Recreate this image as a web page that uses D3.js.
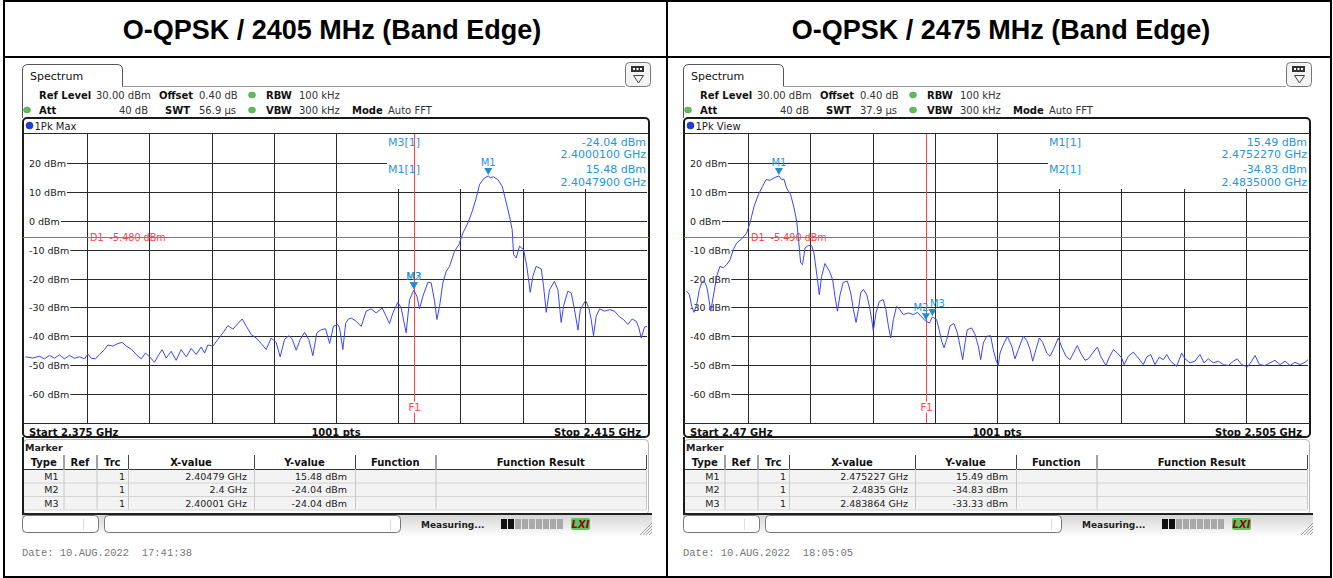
<!DOCTYPE html>
<html>
<head>
<meta charset="utf-8">
<script src="https://cdn.jsdelivr.net/npm/d3@7"></script>
<style>
  body { margin: 0; background: #fff; }
  svg text { white-space: pre; }
</style>
</head>
<body>
<svg id="chart" width="1333" height="578" font-family="DejaVu Sans, sans-serif"></svg>
<script>
// values

const titles = ['O-QPSK / 2405 MHz (Band Edge)', 'O-QPSK / 2475 MHz (Band Edge)'];
const yTicks = [20, 10, 0, -10, -20, -30, -40, -50, -60];

const setupNames = ['Ref Level', 'Offset', 'RBW', 'Att', 'SWT', 'VBW', 'Mode'];
const setupLow = ['30.00 dBm', '0.40 dB', '100 kHz', '40 dB', '56.9 µs', '300 kHz', 'Auto FFT'];
const setupHigh = ['30.00 dBm', '0.40 dB', '100 kHz', '40 dB', '37.9 µs', '300 kHz', 'Auto FFT'];

// trace points [MHz, dBm]
const traceLow = [
  [2375.03,-47.1],[2375.50,-47.5],[2375.93,-46.9],[2376.25,-47.8],[2376.58,-46.6],[2376.90,-47.6],
  [2377.22,-46.4],[2377.54,-47.8],[2377.86,-46.6],[2378.18,-47.6],[2378.51,-47.1],[2378.83,-47.8],
  [2379.04,-46.1],[2379.26,-47.6],[2379.53,-47.8],[2379.79,-46.3],[2380.11,-44.6],[2380.33,-43.0],
  [2380.65,-43.4],[2380.97,-42.5],[2381.25,-42.1],[2381.51,-43.4],[2381.83,-44.4],[2382.15,-46.3],
  [2382.47,-47.8],[2382.75,-45.8],[2383.01,-47.1],[2383.33,-49.0],[2383.61,-46.3],[2383.82,-44.6],
  [2384.08,-47.5],[2384.40,-45.2],[2384.72,-48.3],[2385.04,-44.6],[2385.37,-47.1],[2385.69,-44.2],
  [2386.01,-46.3],[2386.33,-43.7],[2386.55,-45.8],[2386.76,-43.0],[2387.08,-43.4],[2387.40,-41.1],
  [2387.73,-38.8],[2388.05,-36.3],[2388.37,-37.5],[2388.69,-35.6],[2388.97,-34.0],[2389.23,-36.5],
  [2389.55,-39.4],[2389.87,-40.6],[2390.19,-42.5],[2390.51,-44.6],[2390.83,-40.6],[2391.15,-42.1],
  [2391.41,-47.1],[2391.69,-41.1],[2391.97,-39.8],[2392.18,-40.9],[2392.44,-44.8],[2392.70,-41.1],
  [2392.98,-38.6],[2393.25,-41.1],[2393.51,-46.7],[2393.77,-38.8],[2394.05,-37.7],[2394.33,-37.4],
  [2394.59,-42.5],[2394.84,-36.5],[2395.12,-35.9],[2395.23,-37.1],[2395.44,-44.6],[2395.62,-35.5],
  [2395.80,-34.0],[2395.98,-33.7],[2396.30,-34.8],[2396.62,-36.6],[2396.94,-31.3],[2397.26,-30.5],
  [2397.58,-31.9],[2397.97,-30.2],[2398.23,-33.1],[2398.44,-35.6],[2398.66,-31.9],[2398.98,-28.2],
  [2399.19,-30.2],[2399.51,-38.8],[2399.73,-27.3],[2400.00,-24.04],[2400.20,-26.1],[2400.37,-30.5],
  [2400.59,-26.1],[2400.91,-21.3],[2401.12,-21.5],[2401.34,-27.9],[2401.49,-34.2],[2401.66,-29.6],
  [2401.87,-21.5],[2402.09,-17.5],[2402.30,-15.8],[2402.62,-10.6],[2402.90,-8.3],[2403.16,-4.3],
  [2403.48,-0.8],[2403.76,3.2],[2404.02,7.9],[2404.23,12.5],[2404.49,14.5],[2404.65,15.1],
  [2404.79,15.48],[2404.92,14.9],[2405.13,15.2],[2405.41,14.2],[2405.69,11.9],[2405.90,7.3],
  [2406.16,1.5],[2406.33,-3.1],[2406.42,-11.7],[2406.59,-12.9],[2406.80,-8.8],[2407.06,-10.0],
  [2407.27,-15.8],[2407.49,-24.8],[2407.66,-19.3],[2407.87,-15.8],[2408.20,-16.7],[2408.35,-22.7],
  [2408.52,-31.7],[2408.73,-23.9],[2409.05,-21.0],[2409.27,-23.9],[2409.48,-35.2],[2409.63,-29.6],
  [2409.91,-24.4],[2410.13,-25.0],[2410.34,-30.8],[2410.56,-37.9],[2410.71,-30.8],[2411.05,-27.6],
  [2411.26,-30.2],[2411.41,-34.2],[2411.56,-39.8],[2411.73,-33.1],[2411.95,-30.5],[2412.27,-31.3],
  [2412.59,-30.8],[2412.91,-31.3],[2413.24,-33.3],[2413.49,-34.2],[2413.77,-35.9],[2414.05,-34.0],
  [2414.31,-34.8],[2414.48,-37.1],[2414.63,-40.6],[2414.84,-36.8],[2415.00,-36.6]
];

const traceHigh = [
  [2470.04,-24.4],[2470.19,-25.6],[2470.32,-29.6],[2470.45,-31.7],[2470.60,-29.0],[2470.75,-23.8],
  [2470.88,-21.5],[2471.01,-20.7],[2471.16,-22.7],[2471.26,-26.1],[2471.39,-31.3],[2471.54,-26.1],
  [2471.73,-19.2],[2471.91,-15.8],[2472.10,-16.3],[2472.29,-15.2],[2472.48,-13.5],[2472.66,-10.0],
  [2472.85,-7.7],[2473.13,-6.3],[2473.41,-4.3],[2473.60,-0.8],[2473.83,5.0],[2474.07,9.0],
  [2474.31,11.9],[2474.50,14.2],[2474.73,14.0],[2474.95,14.8],[2475.227,15.49],[2475.38,14.2],
  [2475.51,14.4],[2475.66,11.3],[2475.89,9.0],[2476.08,4.4],[2476.23,-0.2],[2476.34,-7.1],
  [2476.45,-14.6],[2476.56,-15.2],[2476.70,-9.4],[2476.88,-8.6],[2477.07,-8.6],[2477.20,-11.2],
  [2477.35,-18.1],[2477.50,-25.6],[2477.63,-19.3],[2477.82,-14.8],[2478.07,-17.5],[2478.25,-20.4],
  [2478.38,-26.1],[2478.52,-31.3],[2478.67,-25.6],[2478.85,-21.3],[2479.08,-20.9],[2479.27,-25.0],
  [2479.42,-30.8],[2479.57,-35.2],[2479.70,-30.8],[2479.83,-25.0],[2479.98,-23.8],[2480.17,-25.6],
  [2480.32,-29.6],[2480.45,-34.2],[2480.54,-38.2],[2480.69,-31.9],[2480.88,-27.9],[2481.10,-27.3],
  [2481.25,-30.8],[2481.39,-36.5],[2481.52,-40.6],[2481.67,-34.2],[2481.85,-29.6],[2482.04,-30.8],
  [2482.23,-32.5],[2482.51,-31.9],[2482.79,-32.5],[2483.02,-31.7],[2483.26,-33.3],[2483.50,-34.83],
  [2483.70,-35.4],[2483.864,-33.33],[2484.10,-34.2],[2484.25,-37.9],[2484.39,-41.7],[2484.52,-44.0],
  [2484.67,-41.1],[2484.86,-36.3],[2485.08,-35.6],[2485.27,-38.8],[2485.46,-44.6],[2485.57,-48.1],
  [2485.70,-42.3],[2485.83,-37.7],[2486.07,-37.1],[2486.26,-39.4],[2486.45,-43.4],[2486.58,-48.1],
  [2486.73,-42.3],[2486.92,-40.0],[2487.14,-39.8],[2487.29,-44.6],[2487.44,-48.1],[2487.57,-50.1],
  [2487.67,-45.8],[2487.82,-43.4],[2488.08,-40.0],[2488.33,-43.4],[2488.51,-47.8],[2488.70,-44.6],
  [2488.98,-40.0],[2489.17,-41.4],[2489.36,-44.6],[2489.51,-48.6],[2489.69,-44.6],[2489.88,-40.6],
  [2490.07,-42.1],[2490.30,-45.8],[2490.48,-46.9],[2490.67,-44.6],[2490.95,-40.6],[2491.14,-43.7],
  [2491.38,-46.9],[2491.61,-48.1],[2491.80,-45.8],[2492.02,-43.2],[2492.21,-45.8],[2492.45,-48.3],
  [2492.64,-47.8],[2492.88,-45.8],[2493.15,-43.7],[2493.33,-46.9],[2493.63,-50.1],[2493.82,-47.2],
  [2494.05,-44.6],[2494.27,-45.8],[2494.52,-47.5],[2494.65,-49.8],[2494.89,-46.9],[2495.17,-45.5],
  [2495.45,-47.5],[2495.73,-49.8],[2495.92,-47.2],[2496.15,-46.3],[2496.39,-49.8],[2496.63,-47.2],
  [2496.86,-48.1],[2497.05,-46.3],[2497.27,-48.6],[2497.61,-50.4],[2497.89,-45.8],[2498.08,-47.8],
  [2498.36,-49.2],[2498.64,-48.6],[2498.92,-46.3],[2499.15,-49.2],[2499.39,-47.8],[2499.67,-49.2],
  [2499.95,-48.6],[2500.24,-49.8],[2500.52,-50.1],[2500.80,-48.6],[2501.02,-47.8],[2501.27,-49.8],
  [2501.59,-50.6],[2501.83,-48.6],[2502.02,-46.6],[2502.26,-49.8],[2502.58,-50.1],[2502.86,-49.2],
  [2503.14,-48.3],[2503.43,-49.8],[2503.71,-48.6],[2503.99,-50.1],[2504.27,-49.0],[2504.55,-49.8],
  [2504.83,-49.0],[2505.00,-48.1]
];

// markers [name, MHz, dBm]
const markersLow = [['M1', 2404.79, 15.48], ['M2', 2400.0, -24.04], ['M3', 2400.01, -24.04]];
const markersHigh = [['M1', 2475.227, 15.49], ['M2', 2483.5, -34.83], ['M3', 2483.864, -33.33]];

// readout block at top right: [name, level, frequency]
const readoutLow = [['M3[1]', '-24.04 dBm', '2.4000100 GHz'], ['M1[1]', '15.48 dBm', '2.4047900 GHz']];
const readoutHigh = [['M1[1]', '15.49 dBm', '2.4752270 GHz'], ['M2[1]', '-34.83 dBm', '2.4835000 GHz']];

const tableHeaders = ['Type', 'Ref', 'Trc', 'X-value', 'Y-value', 'Function', 'Function Result'];
const tableLow = [
  ['M1', '', '1', '2.40479 GHz', '15.48 dBm'],
  ['M2', '', '1', '2.4 GHz', '-24.04 dBm'],
  ['M3', '', '1', '2.40001 GHz', '-24.04 dBm']
];
const tableHigh = [
  ['M1', '', '1', '2.475227 GHz', '15.49 dBm'],
  ['M2', '', '1', '2.4835 GHz', '-34.83 dBm'],
  ['M3', '', '1', '2.483864 GHz', '-33.33 dBm']
];

const panels = [
  { title: titles[0], setup: setupLow, trace: traceLow, traceName: '1Pk Max', start: 2375, stop: 2415,
    startText: 'Start 2.375 GHz', stopText: 'Stop 2.415 GHz', d1: -5.48, d1Text: 'D1  -5.480 dBm', f1: 2400,
    markers: markersLow, readout: readoutLow, table: tableLow, date: 'Date: 10.AUG.2022  17:41:38' },
  { title: titles[1], setup: setupHigh, trace: traceHigh, traceName: '1Pk View', start: 2470, stop: 2505,
    startText: 'Start 2.47 GHz', stopText: 'Stop 2.505 GHz', d1: -5.49, d1Text: 'D1  -5.490 dBm', f1: 2483.5,
    markers: markersHigh, readout: readoutHigh, table: tableHigh, date: 'Date: 10.AUG.2022  18:05:05' }
];

const RED = '#ff4646', BLUE = '#1f96e0', TRACE = '#3a46ff', GRID = '#2a2a2a';

const svg = d3.select('#chart');
const defs = svg.append('defs');
const sg = defs.append('linearGradient').attr('id', 'statusGrad').attr('x1', 0).attr('y1', 0).attr('x2', 0).attr('y2', 1);
sg.append('stop').attr('offset', '0%').attr('stop-color', '#d4d4d4');
sg.append('stop').attr('offset', '100%').attr('stop-color', '#ffffff');

// outer table
svg.append('rect').attr('x', 4).attr('y', 1).attr('width', 1327).attr('height', 576)
  .attr('fill', 'none').attr('stroke', '#000').attr('stroke-width', 2);
svg.append('line').attr('x1', 4).attr('x2', 1331).attr('y1', 57).attr('y2', 57).attr('stroke', '#000').attr('stroke-width', 2);
svg.append('line').attr('x1', 667).attr('x2', 667).attr('y1', 1).attr('y2', 577).attr('stroke', '#000').attr('stroke-width', 2);

function drawPanel(g, p) {
  const X0 = 25, W = 622, Y0 = 134, Y1 = 423;
  const x = d3.scaleLinear().domain([p.start, p.stop]).range([X0, X0 + W]);
  const y = d3.scaleLinear().domain([-70, 30]).range([Y1, Y0]);
  const xr = x.copy().interpolate(d3.interpolateRound);
  const yr = y.copy().interpolate(d3.interpolateRound);

  // tab + header
  g.append('path').attr('d', 'M22.5,118 V70 Q22.5,64.5 28,64.5 H117 Q122.5,64.5 122.5,70 V86.5')
    .attr('fill', 'none').attr('stroke', '#555');
  g.append('line').attr('x1', 122.5).attr('x2', 625).attr('y1', 86.5).attr('y2', 86.5).attr('stroke', '#999');
  g.append('text').attr('x', 30).attr('y', 80).attr('font-size', 11).attr('fill', '#111').text('Spectrum');

  const icon = g.append('g');
  icon.append('rect').attr('x', 625.5).attr('y', 62.5).attr('width', 25).attr('height', 24).attr('rx', 4)
    .attr('fill', '#f4f4f4').attr('stroke', '#777');
  icon.append('rect').attr('x', 631).attr('y', 66).attr('width', 13).attr('height', 6).attr('fill', '#333');
  [634, 637.5, 641].forEach(cx => icon.append('rect').attr('x', cx - 1).attr('y', 68).attr('width', 2).attr('height', 2).attr('fill', '#fff'));
  icon.append('path').attr('d', 'M633.5,75.5 H643.5 L638.5,83 Z').attr('fill', 'none').attr('stroke', '#444');

  // setup lines
  const namePos = [[39, 98.5], [159, 98.5], [266, 98.5], [39, 113.5], [165, 113.5], [266, 113.5], [352, 113.5]];
  const valPos = [[96, 98.5, 'start'], [199, 98.5, 'start'], [299, 98.5, 'start'], [148, 113.5, 'end'],
    [199, 113.5, 'start'], [299, 113.5, 'start'], [388, 113.5, 'start']];
  setupNames.forEach((n, i) => {
    g.append('text').attr('x', namePos[i][0]).attr('y', namePos[i][1]).attr('font-size', 10)
      .attr('font-weight', 'bold').attr('fill', '#111').text(n);
    g.append('text').attr('x', valPos[i][0]).attr('y', valPos[i][1]).attr('text-anchor', valPos[i][2])
      .attr('font-size', 10).attr('fill', '#333').text(p.setup[i]);
  });
  [[252, 95], [27, 110], [252, 110]].forEach(d => {
    g.append('ellipse').attr('cx', d[0]).attr('cy', d[1]).attr('rx', 3.5).attr('ry', 3)
      .attr('fill', '#5cbd5a').attr('stroke', '#3e9a3c').attr('stroke-width', 0.5);
  });

  // diagram frame
  g.append('rect').attr('x', 23).attr('y', 118).attr('width', 626).attr('height', 319).attr('rx', 4)
    .attr('fill', '#fff').attr('stroke', '#1a1a1a').attr('stroke-width', 2);
  g.append('circle').attr('cx', 29.5).attr('cy', 125.5).attr('r', 3.5).attr('fill', '#1c3ee0').attr('stroke', '#0a1f80').attr('stroke-width', 0.5);
  g.append('text').attr('x', 34.5).attr('y', 129.5).attr('font-size', 10).attr('fill', '#222').text(p.traceName);

  // grid
  const divs = d3.range(1, 10).map(k => p.start + k * (p.stop - p.start) / 10);
  g.append('g').attr('transform', `translate(0,${Y1})`)
    .call(d3.axisTop(xr).tickValues(divs).tickSize(Y1 - Y0).tickFormat(''))
    .call(a => a.select('.domain').remove())
    .call(a => a.selectAll('line').attr('stroke', GRID));
  g.append('g').attr('transform', `translate(${X0},0)`)
    .call(d3.axisRight(yr).tickValues(yTicks).tickSize(W).tickFormat(''))
    .call(a => a.select('.domain').remove())
    .call(a => a.selectAll('line').attr('stroke', GRID));
  [Y0 - 0.5, Y1 + 0.5].forEach(v => g.append('line').attr('x1', 23).attr('x2', 649).attr('y1', v).attr('y2', v).attr('stroke', GRID));

  // clear area behind marker readout
  g.append('rect').attr('x', 387).attr('y', Y0).attr('width', 261).attr('height', 55).attr('fill', '#fff');

  // level labels sit on a white patch that cuts the grid line
  const ylab = g.selectAll('.ylab').data(yTicks).enter().append('g').attr('class', 'ylab')
    .attr('transform', d => `translate(0,${yr(d) + 0.5})`);
  ylab.append('rect').attr('x', 24).attr('y', -5).attr('height', 10).attr('fill', '#fff');
  ylab.append('text').attr('x', 29).attr('dy', '0.35em').attr('font-size', 9.5).attr('fill', '#222').text(d => d + ' dBm');
  ylab.each(function () {
    const len = d3.select(this).select('text').node().getComputedTextLength();
    d3.select(this).select('rect').attr('width', len + 6);
  });

  // display line D1 and frequency line F1
  g.append('line').attr('x1', 23).attr('x2', 649).attr('y1', yr(p.d1) + 0.5).attr('y2', yr(p.d1) + 0.5).attr('stroke', RED);
  g.append('text').attr('x', 90).attr('y', yr(p.d1) + 0.5).attr('dy', '0.35em').attr('font-size', 9.6)
    .attr('fill', RED).text(p.d1Text);
  g.append('line').attr('x1', xr(p.f1) + 0.5).attr('x2', xr(p.f1) + 0.5).attr('y1', Y0).attr('y2', Y1).attr('stroke', RED);
  g.append('text').attr('x', xr(p.f1) + 0.5).attr('y', 411).attr('text-anchor', 'middle').attr('font-size', 10)
    .attr('fill', RED).attr('stroke', '#fff').attr('stroke-width', 3).attr('paint-order', 'stroke').text('F1');

  // trace
  const line = d3.line().x(d => x(d[0])).y(d => y(d[1]));
  g.append('path').datum(p.trace).attr('d', line).attr('fill', 'none').attr('stroke', TRACE).attr('stroke-width', 1);

  // markers; labels of neighbouring markers are pushed apart
  const neighbour = (d, i) => p.markers.find((o, j) => j !== i &&
    Math.abs(x(o[1]) - x(d[1])) > 1 && Math.abs(x(o[1]) - x(d[1])) < 14);
  const mk = g.selectAll('.mk').data(p.markers).enter().append('g').attr('class', 'mk')
    .attr('transform', d => `translate(${x(d[1])},${y(d[2])})`);
  mk.append('path').attr('d', 'M-4,-8 L4,-8 L0,-1 Z').attr('fill', '#1a8fd6');
  mk.append('text').attr('y', -10).attr('font-size', 10).attr('fill', BLUE)
    .attr('text-anchor', (d, i) => {
      const n = neighbour(d, i);
      return !n ? 'middle' : (x(n[1]) > x(d[1]) ? 'end' : 'start');
    })
    .attr('dx', (d, i) => {
      const n = neighbour(d, i);
      return !n ? 0 : (x(n[1]) > x(d[1]) ? 2.5 : -2.5);
    })
    .text(d => d[0]);

  // readout
  p.readout.forEach((r, i) => {
    const ty = 145.5 + i * 27.5;
    g.append('text').attr('x', 404).attr('y', ty).attr('text-anchor', 'middle').attr('font-size', 11).attr('fill', BLUE).text(r[0]);
    g.append('text').attr('x', 646).attr('y', ty).attr('text-anchor', 'end').attr('font-size', 11).attr('fill', BLUE).text(r[1]);
    g.append('text').attr('x', 646).attr('y', ty + 12.7).attr('text-anchor', 'end').attr('font-size', 11).attr('fill', BLUE).text(r[2]);
  });

  // bottom row of the diagram
  g.append('text').attr('x', 29).attr('y', 435.5).attr('font-size', 10).attr('font-weight', 'bold').attr('fill', '#111').text(p.startText);
  g.append('text').attr('x', 336).attr('y', 435.5).attr('text-anchor', 'middle').attr('font-size', 10).attr('font-weight', 'bold').attr('fill', '#111').text('1001 pts');
  g.append('text').attr('x', 641).attr('y', 435.5).attr('text-anchor', 'end').attr('font-size', 10).attr('font-weight', 'bold').attr('fill', '#111').text(p.stopText);

  // marker table
  g.append('rect').attr('x', 23.5).attr('y', 439.5).attr('width', 625).attr('height', 75).attr('rx', 4)
    .attr('fill', '#fff').attr('stroke', '#b5b5b5');
  g.append('line').attr('x1', 23).attr('x2', 23).attr('y1', 437).attr('y2', 514).attr('stroke', '#1a1a1a').attr('stroke-width', 2);
  g.append('text').attr('x', 25).attr('y', 451).attr('font-size', 9.5).attr('font-weight', 'bold').attr('fill', '#222').text('Marker');

  const cols = [24, 63.5, 96.5, 128, 254, 355, 435.5, 646];
  const rowTop = 469, rowH = 13.5;
  g.append('rect').attr('x', cols[0]).attr('y', rowTop).attr('width', cols[7] - cols[0]).attr('height', rowH * 3).attr('fill', '#f3f3f3');
  d3.range(4).forEach(k => g.append('line').attr('x1', cols[0]).attr('x2', cols[7])
    .attr('y1', rowTop + k * rowH + 0.5).attr('y2', rowTop + k * rowH + 0.5).attr('stroke', k === 0 ? '#333' : '#d2d2d2'));
  cols.slice(1).forEach(c => {
    g.append('line').attr('x1', c + 0.5).attr('x2', c + 0.5).attr('y1', 455).attr('y2', rowTop).attr('stroke', '#444');
    g.append('line').attr('x1', c + 0.5).attr('x2', c + 0.5).attr('y1', rowTop).attr('y2', rowTop + rowH * 3).attr('stroke', '#c8c8c8');
  });
  tableHeaders.forEach((h, i) => {
    g.append('text').attr('x', (cols[i] + cols[i + 1]) / 2).attr('y', 466).attr('text-anchor', 'middle')
      .attr('font-size', 10).attr('font-weight', 'bold').attr('fill', '#111').text(h);
  });
  const pad = [5, 3, 3, 7, 8];
  p.table.forEach((row, r) => {
    row.forEach((v, i) => {
      g.append('text').attr('x', cols[i + 1] - pad[i]).attr('y', rowTop + r * rowH + 10.5).attr('text-anchor', 'end')
        .attr('font-size', 9.5).attr('fill', '#222').text(v);
    });
  });

  // status bar
  g.append('rect').attr('x', 22).attr('y', 514).attr('width', 630).attr('height', 23).attr('fill', 'url(#statusGrad)');
  g.append('line').attr('x1', 22).attr('x2', 652).attr('y1', 514).attr('y2', 514).attr('stroke', '#222').attr('stroke-width', 2);
  g.append('rect').attr('x', 22.5).attr('y', 515.5).attr('width', 76).attr('height', 17).attr('rx', 4).attr('fill', '#fff').attr('stroke', '#777');
  g.append('line').attr('x1', 83.5).attr('x2', 83.5).attr('y1', 519).attr('y2', 530).attr('stroke', '#ddd');
  g.append('rect').attr('x', 104.5).attr('y', 515.5).attr('width', 296).attr('height', 17).attr('rx', 4).attr('fill', '#fff').attr('stroke', '#777');
  g.append('line').attr('x1', 390.5).attr('x2', 390.5).attr('y1', 519).attr('y2', 530).attr('stroke', '#ddd');
  g.append('text').attr('x', 421).attr('y', 527.5).attr('font-size', 9).attr('font-weight', 'bold').attr('fill', '#222').text('Measuring...');
  d3.range(9).forEach(k => g.append('rect').attr('x', 501 + k * 7).attr('y', 519).attr('width', 6).attr('height', 10)
    .attr('fill', k < 2 ? '#111' : '#a9a9a9'));
  g.append('rect').attr('x', 571).attr('y', 518).attr('width', 19).attr('height', 12).attr('rx', 2).attr('fill', '#5cc85a');
  g.append('text').attr('x', 580.5).attr('y', 528).attr('text-anchor', 'middle').attr('font-size', 10).attr('font-weight', 'bold')
    .attr('font-style', 'italic').attr('fill', '#8a0a1a').text('LXI');
  d3.range(4).forEach(k => g.append('line').attr('x1', 640 + k * 3).attr('y1', 535).attr('x2', 652).attr('y2', 523 + k * 3)
    .attr('stroke', '#888').attr('stroke-width', 0.8));

  g.append('text').attr('x', 22).attr('y', 556).attr('font-family', 'Liberation Mono, monospace').attr('font-size', 10.5)
    .attr('fill', '#777').text(p.date);
}

panels.forEach((p, i) => {
  const g = svg.append('g').attr('transform', `translate(${i * 661},0)`);
  svg.append('text').attr('x', i === 0 ? 332 : 1001).attr('y', 38.5).attr('text-anchor', 'middle')
    .attr('font-family', 'Liberation Sans, Arial, sans-serif').attr('font-size', 27).attr('font-weight', 'bold')
    .attr('fill', '#000').text(p.title);
  drawPanel(g, p);
});
</script>
</body>
</html>
